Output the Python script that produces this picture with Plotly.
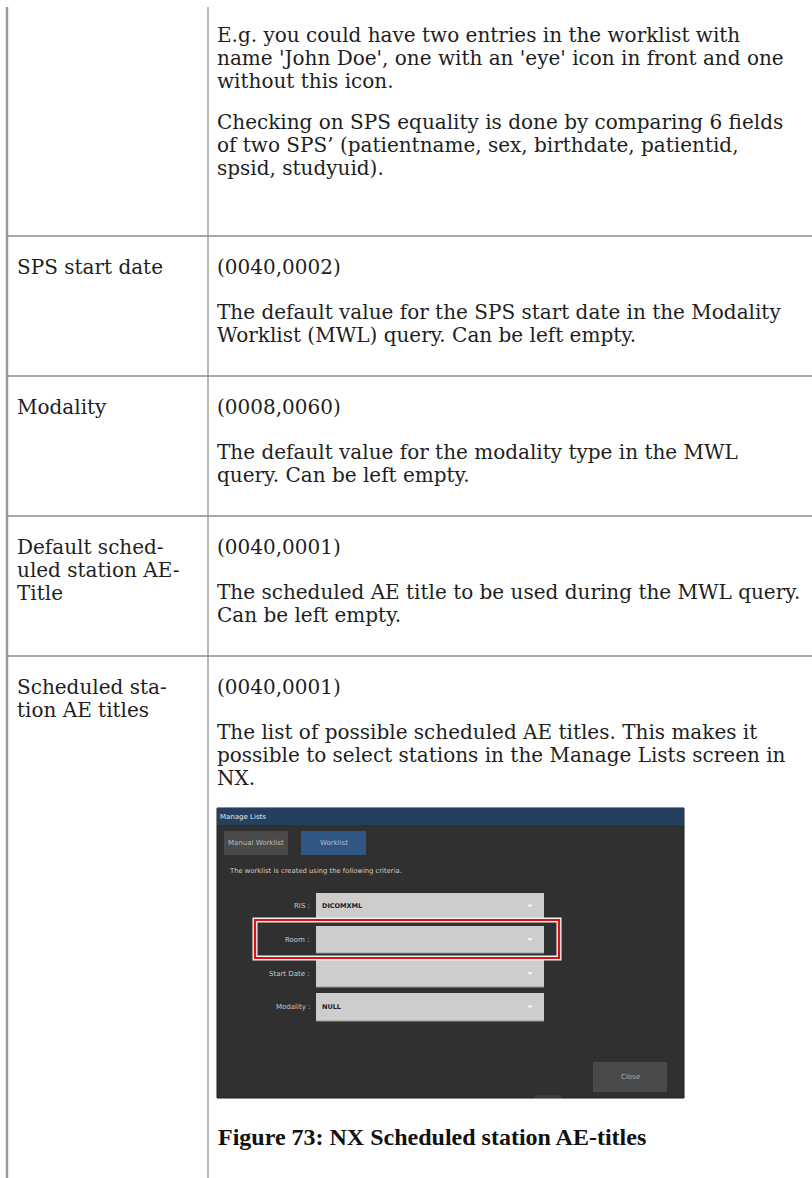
import plotly.graph_objects as go

W, H = 812, 1178

# ---------------- content ----------------
row_labels = [
    [],
    ["SPS start date"],
    ["Modality"],
    ["Default sched-", "uled station AE-", "Title"],
    ["Scheduled sta-", "tion AE titles"],
]
row_tags = [None, "(0040,0002)", "(0008,0060)", "(0040,0001)", "(0040,0001)"]
row_paras = [
    [
        ["E.g. you could have two entries in the worklist with",
         "name 'John Doe', one with an 'eye' icon in front and one",
         "without this icon."],
        ["Checking on SPS equality is done by comparing 6 fields",
         "of two SPS\u2019 (patientname, sex, birthdate, patientid,",
         "spsid, studyuid)."],
    ],
    [["The default value for the SPS start date in the Modality",
      "Worklist (MWL) query. Can be left empty."]],
    [["The default value for the modality type in the MWL",
      "query. Can be left empty."]],
    [["The scheduled AE title to be used during the MWL query.",
      "Can be left empty."]],
    [["The list of possible scheduled AE titles. This makes it",
      "possible to select stations in the Manage Lists screen in",
      "NX."]],
]
caption = "Figure 73: NX Scheduled station AE-titles"

ui_title = "Manage Lists"
ui_tabs = ["Manual Worklist", "Worklist"]
ui_intro = "The worklist is created using the following criteria."
ui_field_labels = ["RIS :", "Room :", "Start Date :", "Modality :"]
ui_field_values = ["DICOMXML", "", "", "NULL"]
ui_button = "Close"

# ---------------- layout constants ----------------
LINE = 23
PARA_GAP = 18
TAG_GAP = 22
BORDER_X = 7
COL_X = 208
TOP_Y = 7
LEFT_TEXT_X = 16
RIGHT_TEXT_X = 216
FIRST_ROW_TOP = 236
ROW_H = 140
PAD_TOP = 31
BODY_FONT = dict(family="DejaVu Serif", size=20, color="#1e1e1e")
LINE_COLOR = "#8c8c8c"

row_tops = [None] + [FIRST_ROW_TOP + i * ROW_H for i in range(4)]

fig = go.Figure()
shapes = []
annots = []


def text(x, y, s, font, xanchor="left"):
    annots.append(dict(x=x, y=y, xref="x", yref="y", text=s, showarrow=False,
                       xanchor=xanchor, yanchor="middle", font=font,
                       borderpad=0))


# table lines
shapes.append(dict(type="line", x0=BORDER_X, x1=BORDER_X, y0=TOP_Y, y1=H,
                   line=dict(color="#9a9a9a", width=2.5)))
shapes.append(dict(type="line", x0=COL_X, x1=COL_X, y0=TOP_Y, y1=H,
                   line=dict(color=LINE_COLOR, width=1.2)))
for t in row_tops[1:]:
    shapes.append(dict(type="line", x0=BORDER_X, x1=W, y0=t, y1=t,
                       line=dict(color=LINE_COLOR, width=1.4)))

# text rows
for r in range(len(row_paras)):
    if r == 0:
        y = 35
    else:
        first = row_tops[r] + PAD_TOP
        for i, lab in enumerate(row_labels[r]):
            text(LEFT_TEXT_X, first + i * LINE, lab, BODY_FONT)
        text(RIGHT_TEXT_X, first, row_tags[r], BODY_FONT)
        y = first + LINE + TAG_GAP
    for pi, para in enumerate(row_paras[r]):
        if pi > 0:
            y += PARA_GAP
        for line in para:
            text(RIGHT_TEXT_X, y, line, BODY_FONT)
            y += LINE

# ---------------- screenshot inset ----------------
sx0, sx1 = 217, 684
sy0, sy1 = 808, 1098


def rect(x0, y0, x1, y1, fill, lc=None, lw=0):
    shapes.append(dict(type="rect", x0=x0, x1=x1, y0=y0, y1=y1, fillcolor=fill,
                       line=dict(color=lc or fill, width=lw)))


rect(sx0, sy0, sx1, sy1, "#303030", "#1c1c1c", 1)
rect(sx0, sy0, sx1, sy0 + 17, "#25405e")
rect(sx0 + 318, sy1 - 3, sx0 + 344, sy1, "#3c3c3c")
text(sx0 + 2, sy0 + 8.5, ui_title, dict(family="DejaVu Sans", size=7, color="#e6e6e6"))

tab_x = [(224, 288), (301, 366)]
tab_fill = ["#4a4a4a", "#2f5684"]
for (x0, x1), f, lab in zip(tab_x, tab_fill, ui_tabs):
    rect(x0, 831, x1, 855, f)
    text((x0 + x1) / 2, 843, lab, dict(family="DejaVu Sans", size=7, color="#bdbdbd"),
         xanchor="center")

text(228, 871, ui_intro, dict(family="DejaVu Sans", size=6.8, color="#cfcfcf"))

field_y = [(893, 919), (926, 953), (960, 987), (993, 1021)]
fx0, fx1 = 316, 544
for (y0, y1), lab, val in zip(field_y, ui_field_labels, ui_field_values):
    rect(fx0, y0, fx1, y1, "#cdcdcd")
    shapes.append(dict(type="line", x0=fx0, x1=fx1, y0=y1, y1=y1,
                       line=dict(color="#9a9a9a", width=1)))
    cy = (y0 + y1) / 2
    text(311, cy, lab, dict(family="DejaVu Sans", size=7, color="#c8c8c8"),
         xanchor="right")
    if val:
        text(321, cy, "<b>" + val + "</b>",
             dict(family="DejaVu Sans", size=6.5, color="#202020"))
    shapes.append(dict(type="path",
                       path=f"M {527},{cy - 1.5} L {533},{cy - 1.5} L {530},{cy + 1.5} Z",
                       fillcolor="#f4f4f4", line=dict(width=0)))

# red highlight around Room field
shapes.append(dict(type="rect", x0=255, x1=559, y0=920, y1=958,
                   line=dict(color="#f2f2f2", width=5), fillcolor="rgba(0,0,0,0)"))
shapes.append(dict(type="rect", x0=255, x1=559, y0=920, y1=958,
                   line=dict(color="#e01010", width=2.2), fillcolor="rgba(0,0,0,0)"))

rect(593, 1062, 667, 1092, "#4a4a4a")
text(630, 1077, ui_button, dict(family="DejaVu Sans", size=7, color="#a8a8a8"),
     xanchor="center")

# caption
text(217, 1137, "<b>" + caption + "</b>",
     dict(family="Liberation Serif", size=24, color="#111111"))

fig.update_layout(
    width=W, height=H,
    margin=dict(l=0, r=0, t=0, b=0),
    paper_bgcolor="white", plot_bgcolor="white",
    xaxis=dict(range=[0, W], visible=False, fixedrange=True),
    yaxis=dict(range=[H, 0], visible=False, fixedrange=True),
    shapes=shapes, annotations=annots, showlegend=False,
)

fig.write_html("out.html", config={"displayModeBar": False},
               post_script="document.body.style.margin='0';document.body.style.overflow='hidden';")
